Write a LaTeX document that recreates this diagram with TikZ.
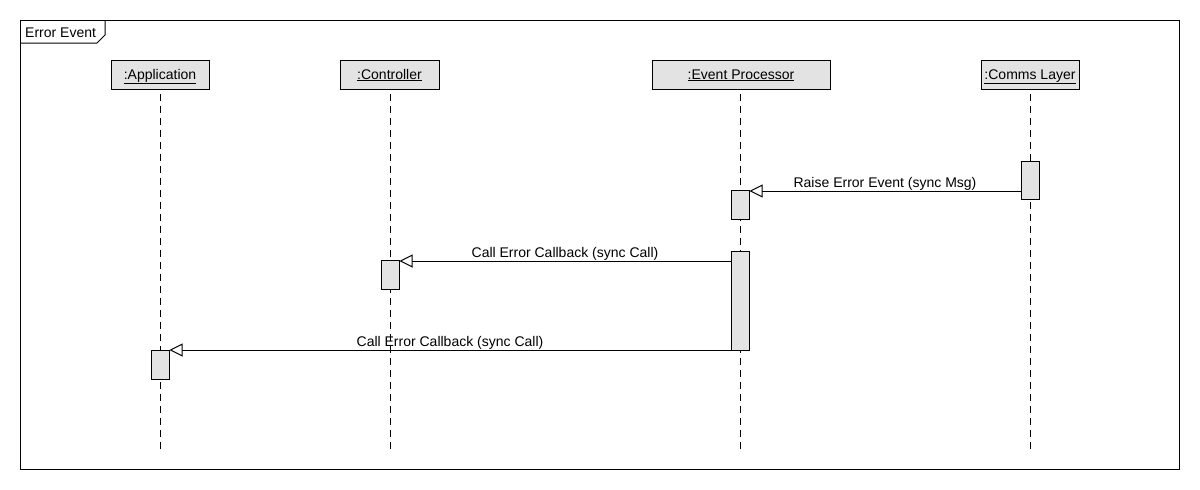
\documentclass[tikz,border=0pt]{standalone}
\usepackage{fontspec}
\setmainfont{Liberation Sans}
\usetikzlibrary{arrows.meta}
\definecolor{boxgray}{HTML}{E3E3E3}
\tikzset{
  head/.style={draw=black, line width=1pt, fill=boxgray, minimum height=29pt, inner sep=0pt},
  act/.style={draw=black, line width=1pt, fill=boxgray, minimum width=18pt, inner sep=0pt},
  life/.style={line width=1pt, dash pattern=on 7pt off 5pt},
  msg/.style={line width=1pt, -{Triangle[open, length=13pt, width=13pt, fill=white]}},
  lbl/.style={inner sep=0pt, anchor=base},
}
\begin{document}
\begin{tikzpicture}[x=1pt, y=-1pt, font=\fontsize{14}{16}\selectfont]
\useasboundingbox (0,0) rectangle (1200,490);
\fill[white] (0,0) rectangle (1200,490);
% frame
\draw[line width=1pt] (20,20) rectangle (1179,469);
\draw[line width=1pt] (20,43) -- (97,43) -- (105,35) -- (105,20);
\node[inner sep=0pt, anchor=base west] (frametitle) at (25,37) {Error Event};
% heads
\node[head, minimum width=98pt] (app) at (160,74.5) {};
\node[head, minimum width=99pt] (ctl) at (389.5,74.5) {};
\node[head, minimum width=178pt] (evp) at (741,74.5) {};
\node[head, minimum width=98pt] (com) at (1030,74.5) {};
\node[lbl] (appt) at (160,79) {\underline{:Application}};
\node[lbl] (ctlt) at (389.5,79) {\underline{:Controller}};
\node[lbl] (evpt) at (741,79) {\underline{:Event Processor}};
\node[lbl] (comt) at (1030,79) {\underline{:Comms Layer}};
% lifeline ends
\coordinate (appe) at (160,449);
\coordinate (ctle) at (390,449);
\coordinate (evpe) at (740,449);
\coordinate (come) at (1030,449);
\draw[life] (appe) -- (160,89);
\draw[life] (ctle) -- (390,89);
\draw[life] (evpe) -- (740,89);
\draw[life] (come) -- (1030,89);
% activations
\node[act, minimum height=38pt] (c1) at (1030,180) {};
\node[act, minimum height=29pt] (e1) at (740,204.5) {};
\node[act, minimum height=99pt] (e2) at (740,300.5) {};
\node[act, minimum height=29pt] (k1) at (390,274.5) {};
\node[act, minimum height=29pt] (a1) at (160,364.5) {};
% messages
\draw[msg] (c1.west |- 0,191) -- (e1.east |- 0,191);
\node[lbl] (m1) at (885,187) {Raise Error Event (sync Msg)};
\draw[msg] (e2.west |- 0,261) -- (k1.east |- 0,261);
\node[lbl] (m2) at (565,257) {Call Error Callback (sync Call)};
\draw[msg] (e2.west |- 0,350) -- (a1.east |- 0,350);
\node[lbl] (m3) at (450,346) {Call Error Callback (sync Call)};
\end{tikzpicture}
\end{document}
